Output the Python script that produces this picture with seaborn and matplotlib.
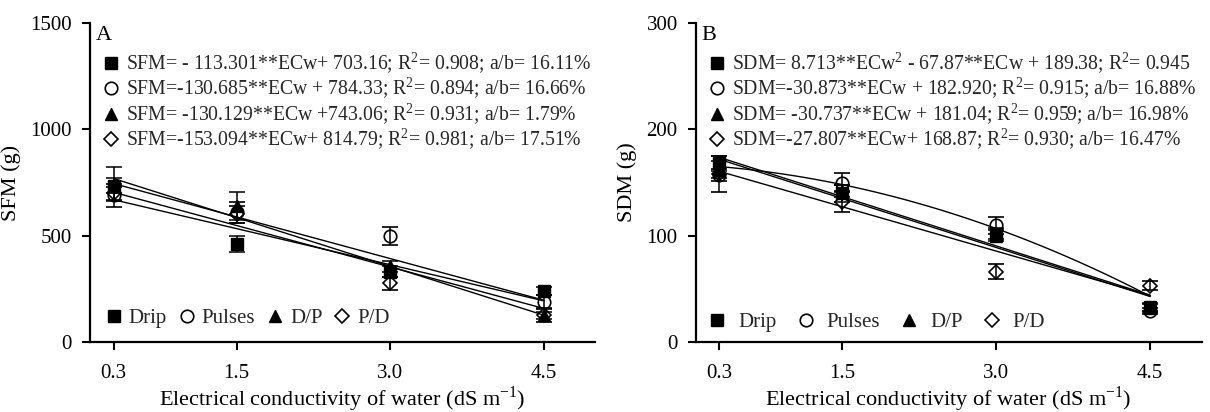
import numpy as np
import pandas as pd
import matplotlib
matplotlib.use("Agg")
import matplotlib.pyplot as plt
import seaborn as sns
from matplotlib.lines import Line2D

# ---------------- data ----------------
ecw = [0.3, 1.5, 3.0, 4.5]
xtick_labels = ["0.3", "1.5", "3.0", "4.5"]
treatments = ["Drip", "Pulses", "D/P", "P/D"]

# Panel A - shoot fresh mass (g)
sfm_drip = [735, 460, 330, 240]
sfm_pulses = [690, 610, 500, 190]
sfm_dp = [745, 640, 355, 125]
sfm_pd = [700, 600, 275, 125]
sfm_err_drip = [35, 38, 25, 20]
sfm_err_pulses = [55, 50, 42, 30]
sfm_err_dp = [80, 65, 25, 15]
sfm_err_pd = [30, 40, 30, 30]
sfm_slope = [-113.301, -130.685, -130.129, -153.094]
sfm_intercept = [703.16, 784.33, 743.06, 814.79]
sfm_labels = [
    r"SFM= - 113.301**ECw+ 703.16; R$^{\mathregular{2}}$= 0.908; a/b= 16.11%",
    r"SFM=-130.685**ECw + 784.33; R$^{\mathregular{2}}$= 0.894; a/b= 16.66%",
    r"SFM= -130.129**ECw +743.06; R$^{\mathregular{2}}$= 0.931; a/b= 1.79%",
    r"SFM=-153.094**ECw+ 814.79; R$^{\mathregular{2}}$= 0.981; a/b= 17.51%",
]

# Panel B - shoot dry mass (g)
sdm_drip = [168, 140, 102, 33]
sdm_pulses = [157, 150, 110, 29]
sdm_dp = [162, 142, 100, 32]
sdm_pd = [158, 132, 66, 53]
sdm_err_drip = [7, 8, 5, 4]
sdm_err_pulses = [6, 9, 8, 3]
sdm_err_dp = [8, 6, 5, 4]
sdm_err_pd = [17, 10, 7, 4]
sdm_drip_curve = [-4.96, -5.24, 167.0]   # quadratic as drawn in the figure
sdm_slope = [-30.873, -30.737, -27.807]  # Pulses, D/P, P/D
sdm_intercept = [182.920, 181.04, 168.87]
sdm_labels = [
    r"SDM= 8.713**ECw$^{\mathregular{2}}$ - 67.87**ECw + 189.38; R$^{\mathregular{2}}$= 0.945",
    r"SDM=-30.873**ECw + 182.920; R$^{\mathregular{2}}$= 0.915; a/b= 16.88%",
    r"SDM= -30.737**ECw + 181.04; R$^{\mathregular{2}}$= 0.959; a/b= 16.98%",
    r"SDM=-27.807**ECw+ 168.87; R$^{\mathregular{2}}$= 0.930; a/b= 16.47%",
]

# ---------------- style ----------------
sns.set_theme(style="ticks")
plt.rcParams["font.family"] = ["Liberation Serif", "DejaVu Serif"]
plt.rcParams["mathtext.fontset"] = "custom"
plt.rcParams["mathtext.rm"] = "Liberation Serif"

marker_styles = [
    dict(marker="s", mfc="black", mec="black", ms=8),
    dict(marker="o", mfc="none", mec="black", ms=9, mew=1.2),
    dict(marker="^", mfc="black", mec="black", ms=9),
    dict(marker="D", mfc="none", mec="black", ms=7.5, mew=1.2),
]

fig = plt.figure(figsize=(12.1, 4.12), dpi=100)
axA = fig.add_axes([0.0744, 0.170, 0.4174, 0.774])
axB = fig.add_axes([0.575, 0.170, 0.418, 0.774])

xgrid = np.linspace(ecw[0], ecw[-1], 100)


def draw_points(ax, series, errs):
    for vals, err, ms in zip(series, errs, marker_styles):
        ax.errorbar(ecw, vals, yerr=err, linestyle="none", color="black",
                    elinewidth=1.1, capsize=6, capthick=1.1, zorder=3, **ms)


def style_axis(ax, ylim, yticks, ylabel, letter):
    ax.set_xlim(0.07, 5.0)
    ax.set_ylim(*ylim)
    ax.set_xticks(ecw)
    ax.set_xticklabels(xtick_labels)
    ax.set_yticks(yticks)
    for s in ["top", "right"]:
        ax.spines[s].set_visible(False)
    for s in ["left", "bottom"]:
        ax.spines[s].set_linewidth(1.6)
        ax.spines[s].set_color("black")
    ax.tick_params(direction="out", length=6, width=1.5,
                   labelsize=15, colors="black")
    ax.tick_params(axis="x", pad=10)
    ax.tick_params(axis="y", pad=7)
    ax.set_xlabel(r"Electrical conductivity of water (dS m$^{\mathregular{-1}}$)",
                  fontsize=16, labelpad=1, color="black")
    ax.set_ylabel(ylabel, fontsize=16, labelpad=7, color="black")
    ax.text(0.012, 0.99, letter, transform=ax.transAxes, fontsize=16,
            va="top", ha="left", color="black")


def handles():
    return [Line2D([], [], linestyle="none", color="black", **ms) for ms in marker_styles]


def add_legends(ax, eq_labels, bottom_kw):
    leg1 = ax.legend(handles(), eq_labels, loc="upper left",
                     bbox_to_anchor=(0.022, 0.915), frameon=False, fontsize=14.2,
                     borderaxespad=0, borderpad=0, handlelength=1.0,
                     handletextpad=0.25, labelspacing=0.0)
    ax.add_artist(leg1)
    ax.legend(handles(), treatments, loc="lower left", frameon=False,
              fontsize=15, ncol=4, borderaxespad=0, borderpad=0,
              handlelength=1.0, **bottom_kw)


# ---------------- Panel A ----------------
fitA = pd.concat([
    pd.DataFrame({"ECw": xgrid, "fit": m * xgrid + b, "series": t})
    for m, b, t in zip(sfm_slope, sfm_intercept, treatments)
])
sns.lineplot(data=fitA, x="ECw", y="fit", units="series", estimator=None,
             color="black", lw=1.0, ax=axA, zorder=2)
draw_points(axA, [sfm_drip, sfm_pulses, sfm_dp, sfm_pd],
            [sfm_err_drip, sfm_err_pulses, sfm_err_dp, sfm_err_pd])
style_axis(axA, (0, 1500), [0, 500, 1000, 1500], "SFM (g)", "A")
add_legends(axA, sfm_labels,
            dict(bbox_to_anchor=(0.026, 0.044), handletextpad=0.22,
                 columnspacing=0.45))

# ---------------- Panel B ----------------
fit_frames = [pd.DataFrame({"ECw": xgrid,
                            "fit": np.polyval(sdm_drip_curve, xgrid),
                            "series": "Drip"})]
for m, b, t in zip(sdm_slope, sdm_intercept, treatments[1:]):
    fit_frames.append(pd.DataFrame({"ECw": xgrid, "fit": m * xgrid + b, "series": t}))
fitB = pd.concat(fit_frames)
sns.lineplot(data=fitB, x="ECw", y="fit", units="series", estimator=None,
             color="black", lw=1.0, ax=axB, zorder=2)
draw_points(axB, [sdm_drip, sdm_pulses, sdm_dp, sdm_pd],
            [sdm_err_drip, sdm_err_pulses, sdm_err_dp, sdm_err_pd])
style_axis(axB, (0, 300), [0, 100, 200, 300], "SDM (g)", "B")
add_legends(axB, sdm_labels,
            dict(bbox_to_anchor=(0.022, 0.03), handletextpad=0.5,
                 columnspacing=0.9))

fig.savefig("out.png", dpi=100)
